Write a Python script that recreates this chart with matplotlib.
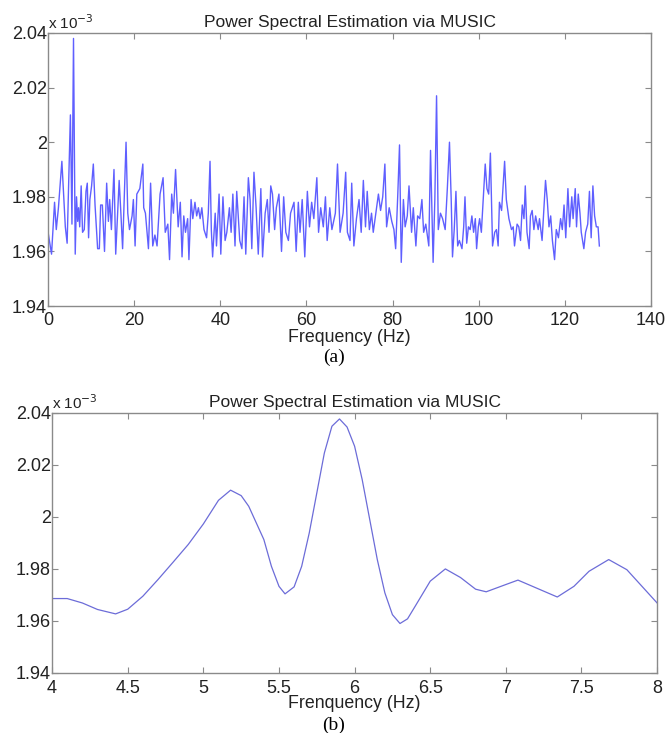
import matplotlib.pyplot as plt
from matplotlib.ticker import FuncFormatter

plt.rcParams['font.family'] = ['Liberation Sans', 'DejaVu Sans']

# -------------------------------
# DATA (power in units of 1e-3)
# -------------------------------
# (a) full spectrum, local peaks / dips
freq_a = [0.0, 0.8, 1.5, 1.9, 2.4, 3.2, 4.0, 4.42, 5.18, 5.54, 5.9, 6.3, 6.6, 6.87, 7.08, 7.34,
          7.68, 8.0, 8.4, 8.8, 9.1, 9.4, 9.7, 10.1, 10.5, 10.9, 11.5, 11.9, 12.2, 12.6, 13.1,
          13.6, 14.0, 14.3, 14.7, 15.3, 15.7, 16.5, 16.9, 17.3, 18.1, 18.5, 18.9, 19.5, 19.8,
          20.2, 20.6, 21.3, 21.6, 22.0, 22.2, 22.6, 23.3, 23.8, 24.3, 24.8, 25.3, 26.0, 26.7,
          27.2, 27.8, 28.2, 28.7, 29.1, 29.6, 30.2, 30.7, 31.1, 31.5, 31.9, 32.4, 32.7, 33.2,
          33.6, 34.1, 34.5, 34.9, 35.3, 35.7, 36.2, 36.8, 37.2, 37.6, 37.9, 38.2, 38.8, 39.1,
          39.7, 40.1, 40.6, 41.1, 41.5, 42.1, 42.5, 42.9, 43.4, 43.8, 44.5, 45.0, 45.5, 45.9,
          46.5, 46.9, 47.3, 47.8, 48.3, 48.8, 49.4, 49.8, 50.4, 50.9, 51.3, 51.7, 52.1, 52.6,
          53.0, 53.6, 54.2, 54.7, 55.2, 55.8, 56.3, 57.1, 57.6, 58.1, 58.5, 59.0, 59.6, 60.2,
          60.7, 61.2, 61.7, 62.4, 62.8, 63.3, 63.9, 64.4, 64.8, 65.4, 65.9, 66.7, 67.2, 67.8,
          68.5, 69.1, 69.5, 70.1, 70.5, 71.0, 71.6, 72.2, 72.7, 73.2, 73.7, 74.1, 74.6, 75.1,
          75.5, 76.1, 76.7, 77.2, 77.7, 78.2, 78.6, 79.2, 79.8, 80.3, 80.7, 81.2, 81.6, 82.0,
          82.5, 82.9, 83.4, 83.8, 84.4, 84.8, 85.4, 85.8, 86.3, 86.8, 87.2, 87.7, 88.4, 88.8,
          89.4, 89.8, 90.2, 90.6, 91.1, 91.6, 92.2, 92.7, 93.2, 93.6, 93.9, 94.3, 94.7, 95.1,
          95.5, 96.1, 96.5, 96.8, 97.2, 97.6, 98.0, 98.4, 98.8, 99.2, 99.5, 99.9, 100.2, 100.6,
          101.0, 101.5, 101.9, 102.3, 102.7, 103.2, 103.7, 104.1, 104.5, 104.8, 105.3, 106.0,
          106.4, 107.0, 107.6, 108.0, 108.3, 108.9, 109.3, 109.7, 110.1, 110.5, 110.8, 111.2,
          111.7, 112.0, 112.4, 112.8, 113.2, 113.8, 114.1, 114.7, 115.1, 115.5, 115.9, 116.3,
          116.7, 117.1, 117.6, 118.0, 118.5, 119.0, 119.4, 119.8, 120.2, 120.7, 121.1, 121.6,
          121.9, 122.4, 122.7, 123.1, 123.5, 123.8, 124.4, 124.8, 125.3, 125.7, 126.1, 126.5,
          126.9, 127.3, 127.7, 128.0]
power_a = [1.967, 1.959, 1.978, 1.968, 1.976, 1.993, 1.969, 1.963, 2.010, 1.970, 2.038, 1.959,
           1.980, 1.971, 1.976, 1.969, 1.984, 1.967, 1.968, 1.982, 1.985, 1.965, 1.979, 1.984,
           1.992, 1.977, 1.961, 1.961, 1.977, 1.977, 1.960, 1.985, 1.971, 1.979, 1.968, 1.990,
           1.959, 1.986, 1.974, 1.961, 2.000, 1.974, 1.968, 1.973, 1.979, 1.962, 1.981, 1.983,
           1.987, 1.992, 1.976, 1.974, 1.961, 1.985, 1.962, 1.966, 1.962, 1.981, 1.987, 1.967,
           1.970, 1.957, 1.981, 1.974, 1.990, 1.969, 1.978, 1.958, 1.973, 1.967, 1.972, 1.957,
           1.979, 1.972, 1.978, 1.973, 1.976, 1.972, 1.976, 1.968, 1.965, 1.974, 1.993, 1.968,
           1.958, 1.974, 1.962, 1.981, 1.959, 1.980, 1.964, 1.967, 1.976, 1.967, 1.981, 1.962,
           1.982, 1.964, 1.961, 1.980, 1.959, 1.987, 1.979, 1.961, 1.989, 1.976, 1.959, 1.983,
           1.958, 1.974, 1.979, 1.967, 1.984, 1.981, 1.968, 1.976, 1.981, 1.960, 1.980, 1.967,
           1.964, 1.974, 1.978, 1.960, 1.978, 1.967, 1.979, 1.958, 1.982, 1.969, 1.978, 1.972,
           1.987, 1.967, 1.976, 1.969, 1.980, 1.964, 1.976, 1.968, 1.974, 1.992, 1.967, 1.974,
           1.989, 1.967, 1.964, 1.985, 1.962, 1.972, 1.979, 1.967, 1.986, 1.969, 1.982, 1.968,
           1.974, 1.967, 1.974, 1.981, 1.975, 1.980, 1.992, 1.969, 1.976, 1.971, 1.968, 1.961,
           1.981, 1.999, 1.956, 1.979, 1.969, 1.973, 1.984, 1.967, 1.976, 1.962, 1.973, 1.972,
           1.979, 1.967, 1.970, 1.962, 1.997, 1.956, 1.979, 2.017, 1.968, 1.974, 1.972, 1.968,
           1.983, 2.000, 1.979, 1.958, 1.968, 1.982, 1.962, 1.964, 1.961, 1.969, 1.980, 1.963,
           1.969, 1.968, 1.973, 1.967, 1.972, 1.961, 1.969, 1.972, 1.967, 1.978, 1.992, 1.983,
           1.981, 1.996, 1.962, 1.967, 1.968, 1.962, 1.978, 1.975, 1.993, 1.979, 1.972, 1.968,
           1.969, 1.962, 1.970, 1.969, 1.964, 1.977, 1.972, 1.984, 1.967, 1.961, 1.973, 1.975,
           1.968, 1.973, 1.968, 1.972, 1.964, 1.975, 1.986, 1.979, 1.969, 1.973, 1.964, 1.957,
           1.968, 1.965, 1.972, 1.968, 1.977, 1.965, 1.983, 1.969, 1.980, 1.972, 1.983, 1.969,
           1.981, 1.974, 1.967, 1.961, 1.967, 1.970, 1.982, 1.965, 1.984, 1.973, 1.969, 1.969,
           1.962]

# (b) zoom on 4-8 Hz
freq_b = [4.0, 4.1, 4.2, 4.3, 4.42, 4.5, 4.6, 4.7, 4.8, 4.9, 5.0, 5.1, 5.18, 5.25, 5.3, 5.4,
          5.45, 5.5, 5.54, 5.6, 5.65, 5.7, 5.75, 5.8, 5.85, 5.9, 5.95, 6.0, 6.05, 6.1, 6.15,
          6.2, 6.25, 6.3, 6.35, 6.4, 6.5, 6.6, 6.7, 6.8, 6.87, 7.0, 7.08, 7.2, 7.34, 7.45,
          7.55, 7.68, 7.8, 7.9, 8.0]
power_b = [1.9686, 1.9686, 1.9669, 1.9644, 1.9627, 1.9645, 1.9695, 1.9759, 1.9826, 1.9894,
           1.9973, 2.0064, 2.0103, 2.0082, 2.0041, 1.9913, 1.9810, 1.9733, 1.9704, 1.9731,
           1.9810, 1.9938, 2.0092, 2.0246, 2.0349, 2.0377, 2.0346, 2.0272, 2.0144, 1.9990,
           1.9836, 1.9708, 1.9624, 1.9590, 1.9608, 1.9656, 1.9753, 1.9800, 1.9767, 1.9722,
           1.9712, 1.9740, 1.9757, 1.9727, 1.9692, 1.9733, 1.9791, 1.9836, 1.9797, 1.9733,
           1.9669]

x_ticks_a = [0, 20, 40, 60, 80, 100, 120, 140]
x_ticks_b = [4, 4.5, 5, 5.5, 6, 6.5, 7, 7.5, 8]
y_ticks = [1.94, 1.96, 1.98, 2.00, 2.02, 2.04]

TITLE = "Power Spectral Estimation via MUSIC"
SPINE = "#8a8a8a"


def style_axes(ax, xlim, xticks, xpad):
    ax.set_xlim(*xlim)
    ax.set_ylim(1.94, 2.04)
    ax.set_xticks(xticks)
    ax.set_yticks(y_ticks)
    ax.xaxis.set_major_formatter(FuncFormatter(lambda v, p: f"{v:g}"))
    ax.yaxis.set_major_formatter(FuncFormatter(lambda v, p: f"{v:g}"))
    ax.tick_params(direction="in", length=4, width=0.8, color=SPINE,
                   top=True, right=True, labelsize=13, labelcolor="#222222")
    ax.tick_params(axis="x", pad=xpad)
    ax.tick_params(axis="y", pad=1)
    for s in ax.spines.values():
        s.set_color(SPINE)
        s.set_linewidth(1.0)
    ax.set_title(TITLE, fontsize=12.5, color="#222222", pad=4)
    ax.text(0.0, 1.005, r"x 10$^{-3}$", transform=ax.transAxes,
            fontsize=11, color="#222222", ha="left", va="bottom")


fig = plt.figure(figsize=(6.68, 7.33), dpi=100)

# -------------------------------
# (a) FULL SPECTRUM
# -------------------------------
ax1 = fig.add_axes([0.072, 0.5825, 0.9026, 0.3725])
ax1.plot(freq_a, power_a, color="#5f5fff", lw=1.0)
style_axes(ax1, (0, 140), x_ticks_a, 4)
ax1.set_xlabel("Frequency (Hz)", fontsize=12.8, color="#222222", labelpad=0)
fig.text(0.5, 0.512, "(a)", fontsize=14, family="Liberation Serif", ha="center", va="center")

# -------------------------------
# (b) ZOOM 4-8 Hz
# -------------------------------
ax2 = fig.add_axes([0.078, 0.082, 0.9057, 0.3546])
ax2.plot(freq_b, power_b, color="#6c6cd8", lw=0.9)
style_axes(ax2, (4, 8), x_ticks_b, 5)
ax2.set_xlabel("Frenquency (Hz)", fontsize=12.8, color="#222222", labelpad=-1)
fig.text(0.5, 0.011, "(b)", fontsize=14, family="Liberation Serif", ha="center", va="center")

fig.savefig("out.png", dpi=100)
